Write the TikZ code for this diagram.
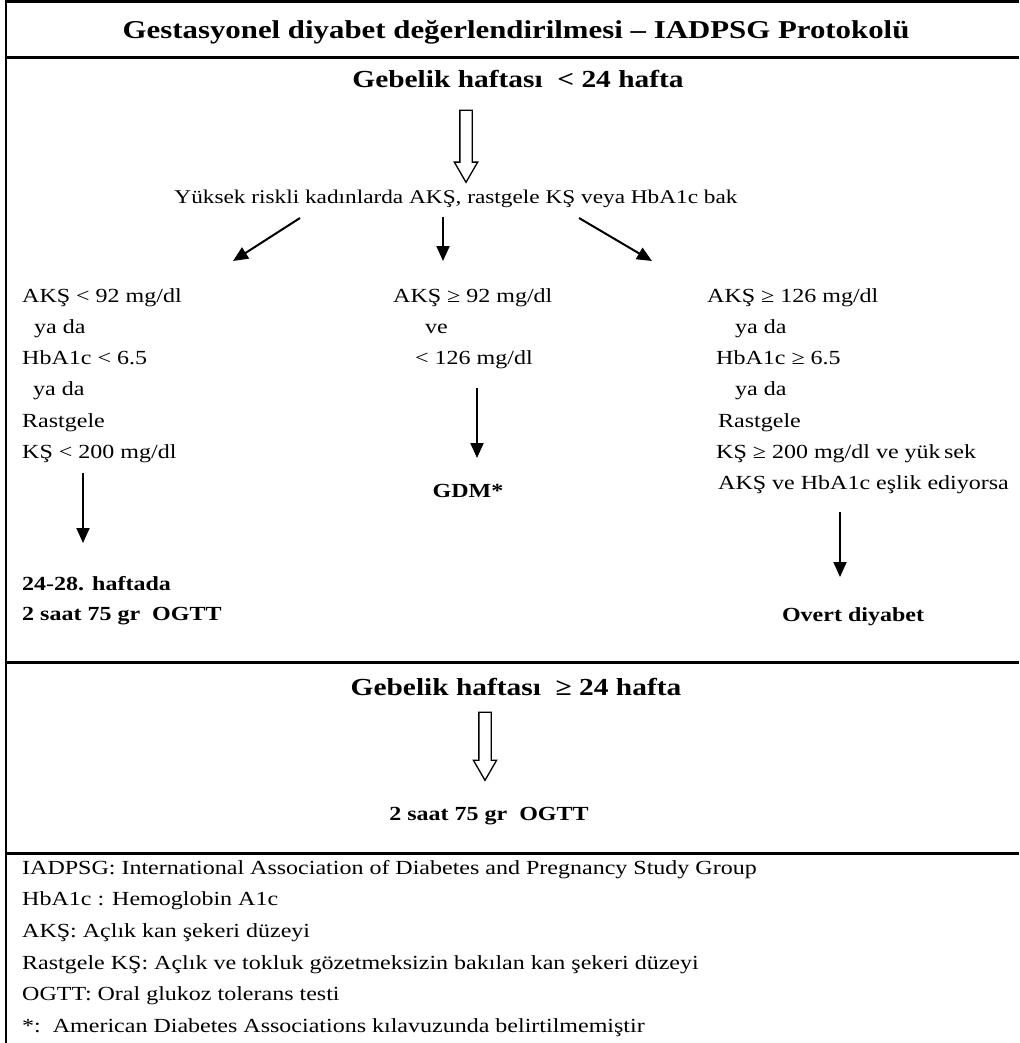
\documentclass[tikz,border=0pt]{standalone}
\usepackage{fontspec}
\setmainfont{Liberation Serif}[FakeStretch=1.2]
\usetikzlibrary{arrows.meta,shapes.arrows,positioning}

\tikzset{
  txt/.style={inner sep=0pt, font=\fontsize{20}{31.3}\selectfont, align=left, anchor=base west},
  hdr/.style={inner sep=0pt, font=\bfseries\fontsize{24.5}{28}\selectfont, anchor=base},
  res/.style={inner sep=0pt, font=\bfseries\fontsize{20}{30.5}\selectfont, align=left},
  arr/.style={line width=2pt, -{Triangle[length=15pt,width=13pt]}},
  hollow/.style={single arrow, draw, line width=1.3pt, rotate=-90, inner sep=5.5pt,
    single arrow head extend=5.5pt, single arrow tip angle=60, minimum height=#1},
  rule/.style={line width=3pt}
}

\begin{document}
\begin{tikzpicture}[x=1pt,y=-1pt]
  \useasboundingbox (0,0) rectangle (1019,1043);

  % frame
  \draw[line width=2.5pt] (6,0.5) -- (6,1043);
  \draw[rule] (6,2) -- (1019,2);
  \draw[rule] (6,58) -- (1019,58);
  \draw[rule] (6,662) -- (1019,662);
  \draw[rule] (6,853) -- (1019,853);

  % title
  \node[hdr, font=\bfseries\fontsize{25.7}{30}\selectfont] (title) at (516,39)
    {Gestasyonel diyabet değerlendirilmesi – IADPSG Protokolü};

  % before week 24 (multi-line nodes sit on their last baseline)
  \node[hdr] (wk1) at (518,88) {Gebelik haftası\ \ < 24 hafta};
  \node[hollow=72pt] (bk1) at (466,141) {};
  \node[txt, anchor=base, font=\fontsize{19.4}{24}\selectfont] (ask) at (456,203)
    {Yüksek riskli kadınlarda AKŞ, rastgele KŞ veya HbA1c bak};

  \coordinate (aL) at (300,218);
  \coordinate (aM) at (443,217);
  \coordinate (aR) at (579,218);
  \coordinate (bL) at (233,261);
  \coordinate (bM) at (443,261);
  \coordinate (bR) at (652,261);
  \draw[arr] (aL) -- (bL);
  \draw[arr] (aM) -- (bM);
  \draw[arr] (aR) -- (bR);

  \node[txt] (colL) at (22,458.5)
    {AKŞ < 92 mg/dl\\ \hspace*{12pt}ya da\\ HbA1c < 6.5\\ \hspace*{11pt}ya da\\
     Rastgele\\ KŞ < 200 mg/dl};
  \node[txt] (colM) at (393,364.6)
    {AKŞ ≥ 92 mg/dl\\ \hspace*{32pt}ve\\ \hspace*{22pt}< 126 mg/dl};
  \node[txt] (colR) at (707,489.8)
    {AKŞ ≥ 126 mg/dl\\ \hspace*{28pt}ya da\\ \hspace*{9pt}HbA1c ≥ 6.5\\
     \hspace*{28pt}ya da\\ \hspace*{11pt}Rastgele\\ \hspace*{9pt}KŞ ≥ 200 mg/dl ve yük\,sek\\
     \hspace*{11pt}AKŞ ve HbA1c eşlik ediyorsa};

  \coordinate (cL) at (83,473);
  \coordinate (dL) at (83,543);
  \coordinate (cM) at (477,388);
  \coordinate (dM) at (477,458);
  \coordinate (cR) at (840,512);
  \coordinate (dR) at (840,577);
  \draw[arr] (cL) -- (dL);
  \draw[arr] (cM) -- (dM);
  \draw[arr] (cR) -- (dR);

  \node[res, anchor=base west] (ogttL) at (22,620.5) {24-28. haftada\\ 2 saat 75 gr\ \ OGTT};
  \node[res, anchor=base] (gdm) at (468,497) {GDM*};
  \node[res, anchor=base] (overt) at (853,621) {Overt diyabet};

  % from week 24 on
  \node[hdr] (wk2) at (516,695) {Gebelik haftası\ \ ≥ 24 hafta};
  \node[hollow=68pt] (bk2) at (485,741) {};
  \node[res, anchor=base] (ogtt) at (489,820) {2 saat 75 gr\ \ OGTT};

  % abbreviations
  \node[txt, font=\fontsize{20}{31.7}\selectfont] (notes) at (22,1032.5)
    {IADPSG: International Association of Diabetes and Pregnancy Study Group\\
     HbA1c : Hemoglobin A1c\\
     AKŞ: Açlık kan şekeri düzeyi\\
     Rastgele KŞ: Açlık ve tokluk gözetmeksizin bakılan kan şekeri düzeyi\\
     OGTT: Oral glukoz tolerans testi\\
     *:\ \ American Diabetes Associations kılavuzunda belirtilmemiştir};
\end{tikzpicture}
\end{document}
